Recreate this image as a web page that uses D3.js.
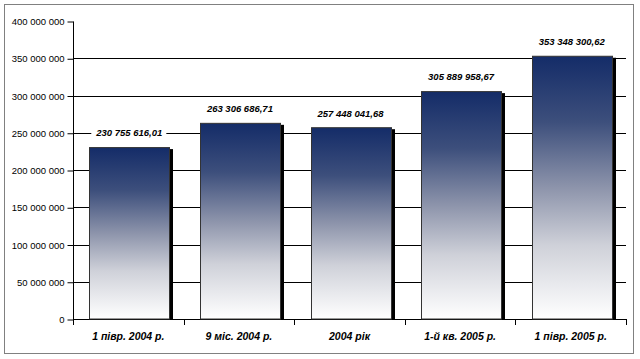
<!DOCTYPE html>
<html><head><meta charset="utf-8">
<script src="https://cdn.jsdelivr.net/npm/d3@7"></script>
<style>body{margin:0;background:#fff}svg{display:block}</style>
</head><body>
<script>
const categories = ["1 півр. 2004 р.", "9 міс. 2004 р.", "2004 рік", "1-й кв. 2005 р.", "1 півр. 2005 р."];
const values = [230755616.01, 263306686.71, 257448041.68, 305889958.67, 353348300.62];
const valueLabels = ["230 755 616,01", "263 306 686,71", "257 448 041,68", "305 889 958,67", "353 348 300,62"];
const yTicks = [0, 50000000, 100000000, 150000000, 200000000, 250000000, 300000000, 350000000, 400000000];

(function () {
const W = 640, H = 359;
const svg = d3.select("body").append("svg").attr("width", W).attr("height", H);

const defs = svg.append("defs");
const grad = defs.append("linearGradient").attr("id", "barGrad")
  .attr("x1", 0).attr("y1", 0).attr("x2", 0).attr("y2", 1);
[[0, "#142c68"], [0.25, "#3d4f7c"], [0.5, "#8d94ab"], [0.72, "#cfd1d9"], [1, "#ffffff"]]
  .forEach(([o, c]) => grad.append("stop").attr("offset", o).attr("stop-color", c));

svg.append("rect").attr("x", 4.5).attr("y", 4.5).attr("width", 629).attr("height", 349)
  .attr("fill", "#fff").attr("stroke", "#808080").attr("stroke-width", 1);

const pL = 73, pR = 626, pT = 21, pB = 319;
const x = d3.scaleBand().domain(categories).range([pL, pR]).paddingInner(0.28).paddingOuter(0.14);
const xb = d3.scaleBand().domain(categories).range([pL, pR]);
const y = d3.scaleLinear().domain([0, 400000000]).range([pB, pT]);

const fmt = d => d3.format(",")(d).replace(/,/g, " ");

// gridlines
svg.append("g").selectAll("line").data(yTicks.filter(t => t > 0 && t < 400000000)).join("line")
  .attr("x1", pL).attr("x2", pR)
  .attr("y1", d => Math.round(y(d)) + 0.5).attr("y2", d => Math.round(y(d)) + 0.5)
  .attr("stroke", "#000").attr("stroke-width", 1);

// y axis
const yAxis = d3.axisLeft(y).tickValues(yTicks).tickFormat(fmt).tickSize(6).tickPadding(3);
const gy = svg.append("g").attr("transform", `translate(${pL + 0.5},0.5)`).call(yAxis);
gy.selectAll("text").attr("font-family", "Liberation Sans, Arial, sans-serif").attr("font-size", 9.5).attr("fill", "#000");
gy.selectAll("line,path").attr("stroke", "#000");
gy.select(".domain").attr("d", `M0,${pT}V${pB}`);

// x axis line and ticks at boundaries
svg.append("line").attr("x1", pL).attr("x2", pR).attr("y1", pB + 0.5).attr("y2", pB + 0.5).attr("stroke", "#000");
const bounds = categories.map(c => xb(c)).concat([pR]);
svg.append("g").selectAll("line").data(bounds).join("line")
  .attr("x1", d => Math.round(d) + 0.5).attr("x2", d => Math.round(d) + 0.5)
  .attr("y1", pB).attr("y2", pB + 6).attr("stroke", "#000");

// bars
const bars = svg.append("g");
categories.forEach((c, i) => {
  const bx = Math.round(x(c)) + 1, bw = Math.round(x.bandwidth()), by = y(values[i]);
  bars.append("rect").attr("x", bx + bw).attr("y", by + 2).attr("width", 4).attr("height", pB - by - 2).attr("fill", "#000");
  bars.append("rect").attr("x", bx + 0.5).attr("y", by + 0.5).attr("width", bw).attr("height", pB - by - 0.5)
    .attr("fill", "url(#barGrad)").attr("stroke", "#333").attr("stroke-width", 1);
});

// value labels
const lab = svg.append("g");
categories.forEach((c, i) => {
  const cx = x(c) + x.bandwidth() / 2 + 1, ly = y(values[i]) - 14;
  const t = lab.append("text").attr("x", cx).attr("y", ly).attr("dy", "0.35em")
    .attr("text-anchor", "middle").attr("font-family", "Liberation Sans, Arial, sans-serif")
    .attr("font-size", 9.5).attr("font-weight", "bold").attr("font-style", "italic").attr("fill", "#000")
    .text(valueLabels[i]);
  const bb = t.node().getBBox();
  lab.insert("rect", "text").attr("x", bb.x - 4).attr("y", bb.y - 1).attr("width", bb.width + 8).attr("height", bb.height + 2).attr("fill", "#fff");
});

// x labels
svg.append("g").selectAll("text").data(categories).join("text")
  .attr("x", d => xb(d) + xb.bandwidth() / 2).attr("y", 336).attr("dy", "0.35em")
  .attr("text-anchor", "middle").attr("font-family", "Liberation Sans, Arial, sans-serif")
  .attr("font-size", 10.5).attr("font-weight", "bold").attr("font-style", "italic").attr("fill", "#000")
  .text(d => d);
})();
</script>
</body></html>
